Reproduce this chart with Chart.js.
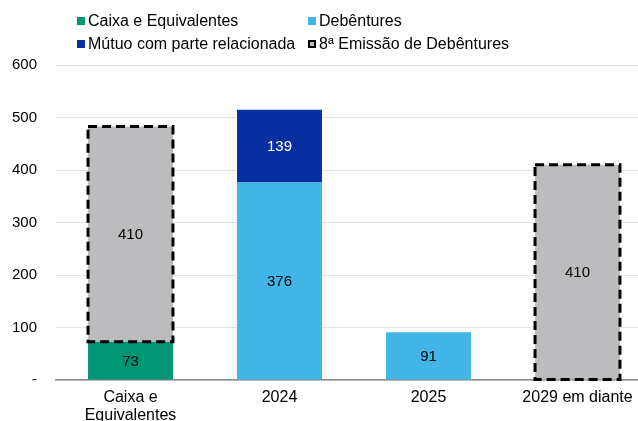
<!DOCTYPE html>
<html><head><meta charset="utf-8">
<script src="https://cdn.jsdelivr.net/npm/chart.js@4/dist/chart.umd.min.js"></script>
<style>
html,body{margin:0;padding:0;overflow:hidden;background:#fff;width:638px;height:421px;}
#wrap{position:relative;width:652px;height:421px;}
#legend{position:absolute;left:0;top:0;width:638px;height:60px;font-family:"Liberation Sans",Arial,sans-serif;font-size:16px;color:#000;}
.item{position:absolute;white-space:nowrap;display:flex;align-items:center;height:16px;}
.sw{display:inline-block;width:8px;height:8px;margin-right:3px;box-sizing:border-box;}
.txt{display:inline-block;}
</style></head>
<body><div id="wrap"><canvas id="c" width="652" height="421"></canvas><div id="legend"></div></div>
<script>
const categories = [["Caixa e","Equivalentes"],"2024","2025","2029 em diante"];
const seriesNames = ["Caixa e Equivalentes","Debêntures","Mútuo com parte relacionada","8ª Emissão de Debêntures"];
const caixa = [73,null,null,null];
const debentures = [null,376,91,null];
const mutuo = [null,139,null,null];
const emissao8 = [410,null,null,410];
const yTickValues = [0,100,200,300,400,500,600];
const colors = ["#009673","#41B6E6","#0630A0","#BCBCBE"];
const labelColors = ["#000","#000","#fff","#000"];

// HTML legend (2 columns)
const legendPos = [[77,13],[308,13],[77,36],[308,36]];
const lg = document.getElementById('legend');
seriesNames.forEach((n,i)=>{
  const d=document.createElement('div'); d.className='item';
  d.style.left=legendPos[i][0]+'px'; d.style.top=legendPos[i][1]+'px';
  const s=document.createElement('span'); s.className='sw';
  s.style.background=colors[i];
  if(i===3){s.style.border='2px dashed #000';s.style.borderRightStyle='solid';}
  const t=document.createElement('span'); t.className='txt'; t.textContent=n;
  d.appendChild(s); d.appendChild(t); lg.appendChild(d);
});

const FONT = "'Liberation Sans', Arial, sans-serif";
const overlay = {
  id:'overlay',
  afterDatasetsDraw(chart){
    const ctx=chart.ctx;
    const meta3=chart.getDatasetMeta(3);
    ctx.save();
    ctx.setLineDash([9,5]); ctx.lineWidth=3; ctx.strokeStyle='#000';
    meta3.data.forEach((el,j)=>{
      if(emissao8[j]==null) return;
      const p=el.getProps(['x','y','base','width'],true);
      ctx.strokeRect(p.x-p.width/2, p.y, p.width, p.base-p.y);
    });
    ctx.restore();
    ctx.save();
    ctx.font="15px "+FONT; ctx.textAlign='center'; ctx.textBaseline='middle';
    chart.data.datasets.forEach((ds,i)=>{
      const meta=chart.getDatasetMeta(i);
      meta.data.forEach((el,j)=>{
        const v=ds.data[j]; if(v==null) return;
        const p=el.getProps(['x','y','base'],true);
        ctx.fillStyle=labelColors[i];
        ctx.fillText(String(v), p.x, (p.y+p.base)/2+1);
      });
    });
    ctx.restore();
  }
};

new Chart(document.getElementById('c'),{
  type:'bar',
  data:{
    labels:categories,
    datasets:[
      {label:seriesNames[0],data:caixa,backgroundColor:colors[0]},
      {label:seriesNames[1],data:debentures,backgroundColor:colors[1]},
      {label:seriesNames[2],data:mutuo,backgroundColor:colors[2]},
      {label:seriesNames[3],data:emissao8,backgroundColor:colors[3]}
    ]
  },
  options:{
    responsive:false,animation:false,
    layout:{padding:{top:65,left:0,right:0,bottom:0}},
    datasets:{bar:{categoryPercentage:1,barPercentage:0.57,borderWidth:0}},
    plugins:{legend:{display:false},tooltip:{enabled:false}},
    scales:{
      x:{stacked:true,
        grid:{display:false,drawTicks:false},
        border:{display:true,color:'#8c8c8c',width:1.5},
        ticks:{color:'#000',font:{family:FONT,size:16,lineHeight:1.15},padding:8,maxRotation:0,autoSkip:false},
        afterFit(a){a.height=41;}
      },
      y:{stacked:true,min:0,max:600,
        afterBuildTicks(a){a.ticks=yTickValues.map(v=>({value:v}));},
        grid:{color:'#e3e3e3',lineWidth:1,drawTicks:false},
        border:{display:false},
        ticks:{color:'#000',font:{family:FONT,size:15},padding:19,
          callback:v=>v===0?'-':String(v)},
        afterFit(a){a.width=56;}
      }
    }
  },
  plugins:[overlay]
});
</script></body></html>
